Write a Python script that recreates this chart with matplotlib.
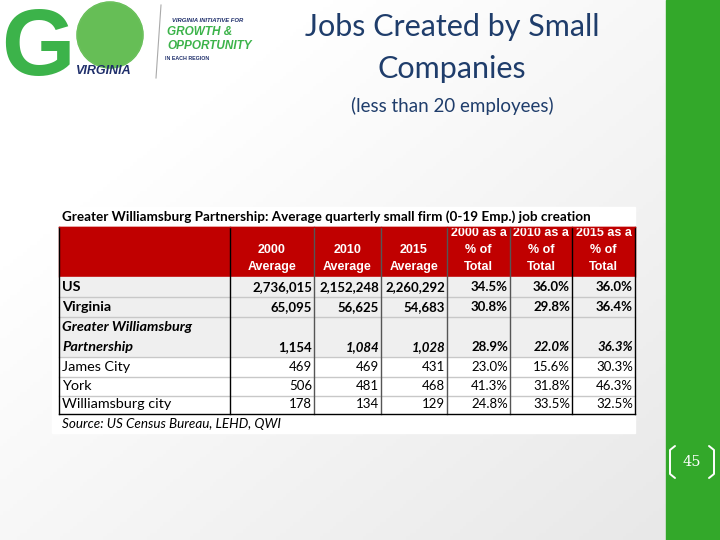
import numpy as np
import matplotlib.pyplot as plt
from matplotlib.patches import Rectangle, Circle

# Table data
title_line = "Greater Williamsburg Partnership: Average quarterly small firm (0-19 Emp.) job creation"
col_headers = ["2000\nAverage", "2010\nAverage", "2015\nAverage",
               "2000 as a\n% of\nTotal", "2010 as a\n% of\nTotal", "2015 as a\n% of\nTotal"]
regions = ["US", "Virginia", "Greater Williamsburg\nPartnership", "James City", "York", "Williamsburg city"]
avg_2000 = [2736015, 65095, 1154, 469, 506, 178]
avg_2010 = [2152248, 56625, 1084, 469, 481, 134]
avg_2015 = [2260292, 54683, 1028, 431, 468, 129]
pct_2000 = [34.5, 30.8, 28.9, 23.0, 41.3, 24.8]
pct_2010 = [36.0, 29.8, 22.0, 15.6, 31.8, 33.5]
pct_2015 = [36.0, 36.4, 36.3, 30.3, 46.3, 32.5]
source = "Source: US Census Bureau, LEHD, QWI"

fig = plt.figure(figsize=(7.2, 5.4), dpi=100)
ax = fig.add_axes([0, 0, 1, 1])
ax.set_xlim(0, 720)
ax.set_ylim(540, 0)
ax.axis('off')

# slide background: white fading to light grey towards right/bottom
gx, gy = np.meshgrid(np.linspace(0, 1, 200), np.linspace(0, 1, 150))
grad = 1 - 0.10 * np.clip(0.6 * gx + 0.6 * gy - 0.3, 0, 1)
ax.imshow(np.dstack([grad, grad, grad]), extent=[0, 666, 540, 0], aspect='auto', zorder=0)
ax.add_patch(Rectangle((666, 0), 54, 540, color='#33a82a', zorder=1))

# page number
ax.text(692, 462, "45", color='white', fontsize=10.5, family='DejaVu Serif',
        ha='center', va='center', zorder=3)
for x0, d in [(675, -1), (709, 1)]:
    ax.plot([x0, x0 + 5 * d, x0 + 5 * d, x0], [446, 450, 474, 478], color='white', lw=1.4,
            solid_capstyle='round', zorder=3)

# logo
green = '#3cb34a'
navy = '#1f2f6b'
ax.text(1, 75, "G", color=green, fontsize=68, fontweight='heavy', family='Liberation Sans',
        va='baseline', ha='left', zorder=2)
ax.add_patch(Circle((110, 35), 33, color='#58b947', zorder=2))
ax.add_patch(Circle((110, 35), 33, color='#7cc86e', alpha=0.4, zorder=2))
ax.text(104, 71, "VIRGINIA", color=navy, fontsize=9, fontweight='bold', style='italic',
        family='Liberation Sans', ha='center', va='center', zorder=3)
ax.plot([161, 156], [5, 78], color='#aaaaaa', lw=0.8, zorder=2)
ax.text(172, 20, "VIRGINIA INITIATIVE FOR", color=navy, fontsize=4.2, fontweight='bold',
        style='italic', family='Liberation Sans', va='center', zorder=2)
ax.text(167, 32, "GROWTH &", color=green, fontsize=8.5, fontweight='bold', style='italic',
        family='Liberation Sans', va='center', zorder=2)
ax.text(167, 46, "OPPORTUNITY", color=green, fontsize=8.5, fontweight='bold', style='italic',
        family='Liberation Sans', va='center', zorder=2)
ax.text(165, 59, "IN EACH REGION", color=navy, fontsize=3.8, fontweight='bold',
        family='Liberation Sans', va='center', zorder=2)

# slide title
tcol = '#1f3d6b'
ax.text(452, 27, "Jobs Created by Small", color=tcol, fontsize=22, fontweight='normal',
        family='Lato', ha='center', va='center', zorder=2)
ax.text(452, 69, "Companies", color=tcol, fontsize=22, fontweight='normal',
        family='Lato', ha='center', va='center', zorder=2)
ax.text(452, 106, "(less than 20 employees)", color=tcol, fontsize=13.5, fontweight='normal',
        family='Lato', ha='center', va='center', zorder=2)

# table
ax.add_patch(Rectangle((52, 207), 583, 226, color='white', zorder=1))
ax.text(62, 217, title_line, fontsize=9.7, fontweight='bold', family='Lato',
        va='center', ha='left', zorder=2)

col_edges = [59, 230, 314, 381, 447, 510, 572, 635]
head_top, head_bot = 227, 277
row_h = [20, 20, 40, 20, 19, 18]
row_edges = np.concatenate([[head_bot], head_bot + np.cumsum(row_h)])

ax.add_patch(Rectangle((col_edges[0], head_top), col_edges[-1] - col_edges[0],
                       head_bot - head_top, color='#c00000', zorder=2))
for j, h in enumerate(col_headers):
    cx = (col_edges[j + 1] + col_edges[j + 2]) / 2
    for k, line in enumerate(reversed(h.split("\n"))):
        ax.text(cx, 267 - 17 * k, line, color='white', fontsize=9.0, fontweight='bold',
                family='Liberation Sans', ha='center', va='center', zorder=3)

values = [avg_2000, avg_2010, avg_2015, pct_2000, pct_2010, pct_2015]
for i, name in enumerate(regions):
    top, bot = row_edges[i], row_edges[i + 1]
    bg = '#efefef' if i < 3 else 'white'
    ax.add_patch(Rectangle((col_edges[0], top), col_edges[-1] - col_edges[0], bot - top,
                           color=bg, zorder=2))
    if i > 0:
        ax.plot([col_edges[0], col_edges[-1]], [top, top], color='#c8c8c8', lw=1, zorder=3)
    bold = i < 3
    ty = bot - 10
    lines = name.split("\n")
    for k, line in enumerate(reversed(lines)):
        ax.text(col_edges[0] + 3, ty - 20 * k, line, fontsize=10.4,
                fontweight='bold' if bold else 'normal',
                style='italic' if i == 2 else 'normal',
                family='Lato', ha='left', va='center', zorder=4)
    for j, col in enumerate(values):
        v = col[i]
        txt = f"{v:,}" if j < 3 else f"{v:.1f}%"
        italic = i == 2 and j in (1, 2, 4, 5)
        ax.text(col_edges[j + 2] - 2, ty, txt, fontsize=9.5,
                fontweight='bold' if bold else 'normal',
                style='italic' if italic else 'normal',
                family='Lato', ha='right', va='center', zorder=4)

for j, x in enumerate(col_edges):
    c = '#555555' if j in (2, 3, 4, 5) else 'black'
    ax.plot([x, x], [head_top, row_edges[-1]], color='black' if j in (0, 7) else c, lw=1, zorder=5)
ax.plot([col_edges[0], col_edges[-1]], [row_edges[-1], row_edges[-1]], color='black', lw=1, zorder=5)
ax.plot([col_edges[0], col_edges[-1]], [head_top, head_top], color='#c00000', lw=1, zorder=5)

ax.text(62, 424, source, fontsize=9.7, style='italic', family='Lato',
        ha='left', va='center', zorder=2)

fig.savefig('out.png', dpi=100)
